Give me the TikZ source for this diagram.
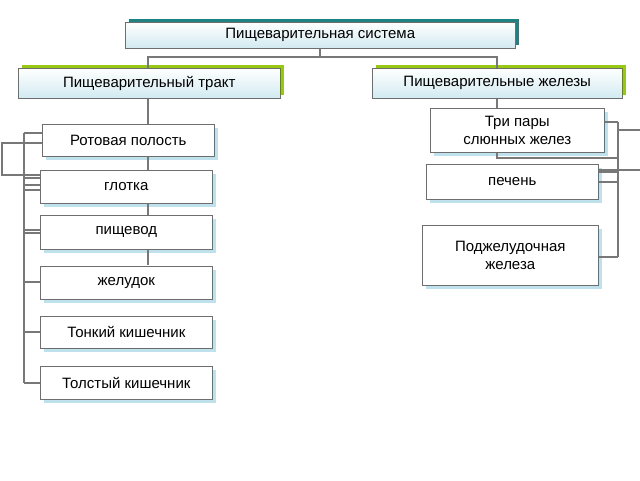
\documentclass[tikz,border=0pt]{standalone}
\usepackage{fontspec}
\setmainfont{Liberation Sans}
\definecolor{teal1}{RGB}{30,130,130}
\definecolor{green1}{RGB}{150,200,20}
\definecolor{shad}{RGB}{190,225,235}
\definecolor{edge}{RGB}{110,110,110}
\definecolor{lnc}{RGB}{120,120,120}
\begin{document}
\begin{tikzpicture}[x=1pt,y=-1pt,
  hdr/.style={draw=edge,line width=0.5pt,top color=white,bottom color=shad!70,text=black,font=\fontsize{15}{17}\selectfont,inner sep=0pt},
  item/.style={draw=edge,line width=0.6pt,fill=white,font=\fontsize{15}{18}\selectfont,align=center,inner sep=0pt},
  ln/.style={draw=lnc,line width=1.3pt}]
\useasboundingbox (0,0) rectangle (640,480);
% shadows
\fill[teal1] (129,19) rectangle (519,45);
\fill[green1] (22,65) rectangle (284,95);
\fill[green1] (376,65) rectangle (626,95);
\foreach \a/\b/\c/\d in {42/124/214/156,40/170/212/203,40/215/212/249,40/266/212/299,40/316/212/348,40/366/212/399,430/108/604/152,426/164/598/199,422/225/598/285}
  \fill[shad] (\a+4,\b+4) rectangle (\c+4,\d+4);
% connectors
\coordinate (j1) at (320,57);
\draw[ln] (320,48) -- (j1) (148,68) |- (j1) -| (497,68);
\draw[ln] (148,98) -- (148,265);
\draw[ln] (497,98) -- (497,158) -- (618,158);
\draw[ln] (24,133) -- (24,383);
\foreach \y/\x in {133/42,178/40,185/40,190/40,230/40,233/40,282/40,332/40,383/40}
  \draw[ln] (24,\y) -- (\x,\y);
\draw[ln] (42,143) -- (2,143) -- (2,175) -- (40,175);
\draw[ln] (618,122) -- (618,257);
\foreach \y/\x in {122/604,172/598,182/598,257/598}
  \draw[ln] (618,\y) -- (\x,\y);
\draw[ln] (618,130) -- (640,130);
\draw[ln] (598,170) -- (640,170);
% nodes
\node[hdr,minimum width=390,minimum height=26,anchor=north west] (sys) at (125,22) {Пищеварительная система};
\node[hdr,minimum width=262,minimum height=30,anchor=north west] (tr) at (18,68) {Пищеварительный тракт};
\node[hdr,minimum width=250,minimum height=30,anchor=north west] (gl) at (372,68) {Пищеварительные железы};
\node[item,minimum width=172,minimum height=32,anchor=north west] (a1) at (42,124) {Ротовая полость};
\node[item,minimum width=172,minimum height=33,anchor=north west] (a2) at (40,170) {глотка};
\node[item,minimum width=172,minimum height=34,anchor=north west] (a3) at (40,215) {пищевод};
\node[item,minimum width=172,minimum height=33,anchor=north west] (a4) at (40,266) {желудок};
\node[item,minimum width=172,minimum height=32,anchor=north west] (a5) at (40,316) {Тонкий кишечник};
\node[item,minimum width=172,minimum height=33,anchor=north west] (a6) at (40,366) {Толстый кишечник};
\node[item,minimum width=174,minimum height=44,anchor=north west] (b1) at (430,108) {Три пары\\слюнных желез};
\node[item,minimum width=172,minimum height=35,anchor=north west] (b2) at (426,164) {печень};
\node[item,minimum width=176,minimum height=60,anchor=north west] (b3) at (422,225) {Поджелудочная\\железа};
\end{tikzpicture}
\end{document}
